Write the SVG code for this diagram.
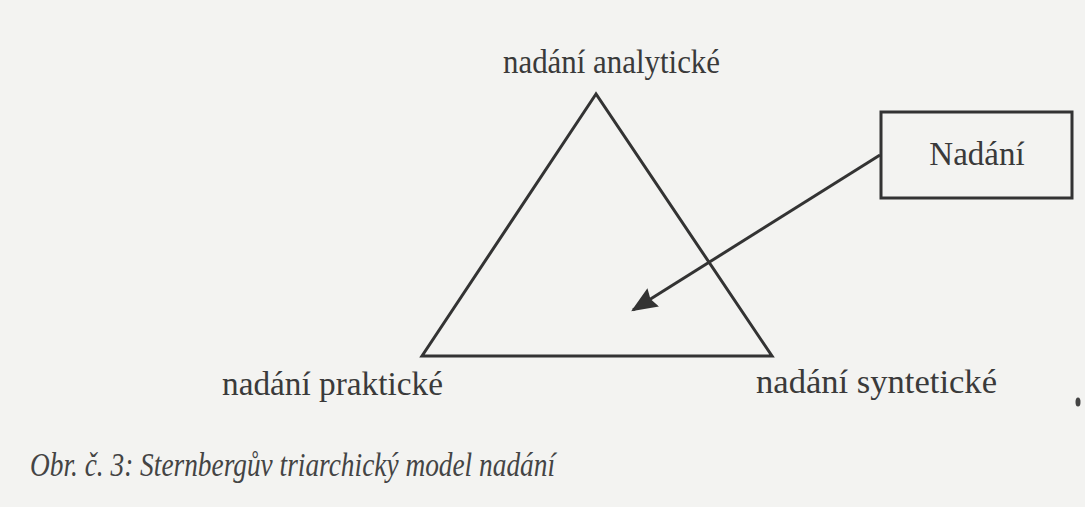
<svg xmlns="http://www.w3.org/2000/svg" width="1085" height="507" viewBox="0 0 1085 507">
  <style>
    .lbl { font-family: "Liberation Serif", "Times New Roman", serif; fill: #3a3a3a; font-size: 33px; }
    .cap { font-family: "Liberation Serif", "Times New Roman", serif; font-style: italic; fill: #444; font-size: 33px; }
    .ln { stroke: #333; stroke-width: 3; fill: none; }
  </style>
  <defs>
    <marker id="arrbig" viewBox="0 0 24 20" refX="22" refY="10" markerWidth="26" markerHeight="22" markerUnits="userSpaceOnUse" orient="auto">
      <path d="M0,0 L24,10 L0,20 L3,10 z" fill="#333"/>
    </marker>
  </defs>
  <rect x="0" y="0" width="1085" height="507" fill="#f3f3f1"/>

  <g id="triangle">
    <polygon class="ln" points="596,94 422,356 772,356"/>
  </g>

  <g id="label-analytic">
    <text class="lbl" x="503" y="73" textLength="217" lengthAdjust="spacingAndGlyphs">nadání analytické</text>
  </g>
  <g id="label-practical">
    <text class="lbl" x="222" y="395" textLength="221" lengthAdjust="spacingAndGlyphs">nadání praktické</text>
  </g>
  <g id="label-synthetic">
    <text class="lbl" x="756" y="393" textLength="241" lengthAdjust="spacingAndGlyphs">nadání syntetické</text>
  </g>

  <g id="nadani">
    <rect class="ln" x="881" y="112" width="191" height="86"/>
    <text class="lbl" x="977" y="165" text-anchor="middle" font-size="35">Nadání</text>
  </g>

  <g id="connectors">
    <line class="ln" x1="880" y1="155" x2="633" y2="310" stroke-width="2.5" marker-end="url(#arrbig)"/>
  </g>

  <g id="caption">
    <text class="cap" x="30" y="476" textLength="525" lengthAdjust="spacingAndGlyphs">Obr. č. 3: Sternbergův triarchický model nadání</text>
  </g>

  <ellipse cx="1078" cy="402" rx="2.5" ry="4.5" fill="#444"/>
</svg>
